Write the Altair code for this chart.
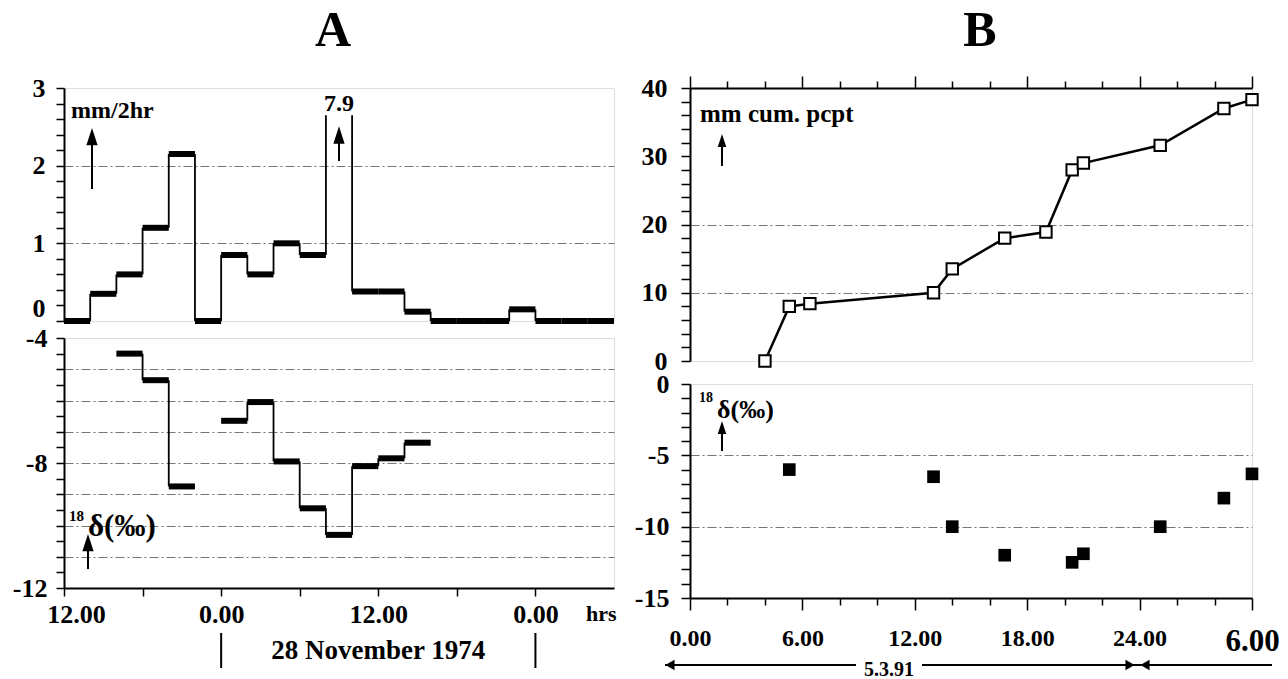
import altair as alt
import pandas as pd

SERIF = "Liberation Serif"

# ---------------- Panel A : 2-hour intervals (hours relative to 0.00, 28 Nov 1974)
a_start = [-12, -10, -8, -6, -4, -2, 0, 2, 4, 6, 8, 10, 12, 14, 16, 18, 20, 22, 24, 26, 28]
a_precip = [0, 0.35, 0.6, 1.2, 2.15, 0, 0.85, 0.6, 1.0, 0.85, 7.9, 0.38, 0.38, 0.12,
            0, 0, 0, 0.15, 0, 0, 0]
a_delta = [None, None, -4.5, -5.35, -8.75, None, -6.65, -6.05, -7.95, -9.45, -10.3,
           -8.1, -7.85, -7.35, None, None, None, None, None, None, None]
a_tick_hours = [-12, 0, 12, 24]
a_tick_labels = ["12.00", "0.00", "12.00", "0.00"]
a_peak_label = "7.9"

# ---------------- Panel B : hours from 0.00 on 5.3.91
b_cum_hours = [4.0, 5.3, 6.4, 13.0, 14.0, 16.8, 19.0, 20.4, 21.0, 25.1, 28.5, 30.0]
b_cum_mm = [0, 8.0, 8.4, 10.0, 13.5, 18.0, 18.9, 28.0, 29.0, 31.6, 37.0, 38.3]
b_delta_hours = [5.3, 13.0, 14.0, 16.8, 20.4, 21.0, 25.1, 28.5, 30.0]
b_delta = [-6.0, -6.5, -10.0, -12.0, -12.5, -11.9, -10.0, -8.0, -6.3]
b_tick_hours = [0, 6, 12, 18, 24, 30]
b_tick_labels = ["0.00", "6.00", "12.00", "18.00", "24.00", "6.00"]

INTERVAL = 2
CAP = 2.65  # display cap for the off-scale 7.9 bar

def steps(starts, vals, cap=None):
    horiz, vert = [], []
    prev = None
    for s, v in zip(starts, vals):
        if v is not None:
            horiz.append({"x": s, "x2": s + INTERVAL, "v": v})
        if prev is not None and v is not None:
            a, b = prev, v
            if cap is not None:
                a, b = min(a, cap), min(b, cap)
            vert.append({"x": s, "y": a, "y2": b})
        prev = v
    return pd.DataFrame(horiz), pd.DataFrame(vert)

def label_expr(hours, labels):
    expr = "''"
    for h, l in reversed(list(zip(hours, labels))):
        expr = f"datum.value == {h} ? '{l}' : ({expr})"
    return expr

GRID = dict(gridColor="#777777", gridDash=[9, 3, 2, 3], gridWidth=1)
LAB = dict(labelFont=SERIF, labelFontWeight="bold", labelColor="black", labelOverlap=False,
           domainColor="black", domainWidth=2, tickColor="black", tickWidth=1.5, title=None)

W_A, H_A1, H_A2 = 550, 233, 250
W_B, H_B1, H_B2 = 562, 273, 214
EXT_A, EXT_B = 56, 58

def txt(t, x, y, size, align="left", baseline="middle"):
    return alt.Chart(pd.DataFrame({"t": [t]})).mark_text(
        font=SERIF, fontWeight="bold", fontSize=size, align=align, baseline=baseline,
        color="black").encode(text="t:N", x=alt.value(x), y=alt.value(y))

def arrow(x, y_tip, y_tail, head=300):
    shaft = alt.Chart(pd.DataFrame({"a": [0]})).mark_rule(color="black", strokeWidth=2).encode(
        x=alt.value(x), y=alt.value(y_tip + 8), y2=alt.value(y_tail))
    tip = alt.Chart(pd.DataFrame({"a": [0]})).mark_point(
        shape="M0,-1L0.65,1L-0.65,1Z", filled=True, color="black", opacity=1, size=head).encode(
        x=alt.value(x), y=alt.value(y_tip + (head ** 0.5) / 2))
    return shaft + tip

xA = alt.Scale(domain=[-12, 30], nice=False, zero=False)

# ----- A top
hA1, vA1 = steps(a_start, a_precip, CAP)
yA1 = alt.Scale(domain=[0, 3], nice=False, zero=False)
yA1_axis = alt.Axis(values=[i / 5 for i in range(16)],
                    labelExpr="(abs(datum.value - round(datum.value)) < 0.001) ? toString(round(datum.value)) : ''",
                    grid=True,
                    gridOpacity={"condition": {"test": "abs(datum.value - 1) < 0.001 || abs(datum.value - 2) < 0.001", "value": 1}, "value": 0},
                    labelFontSize=26, tickSize=8, labelPadding=11, minExtent=EXT_A, maxExtent=EXT_A,
                    labelBaseline={"condition": {"test": "datum.value == 0", "value": "bottom"}, "value": "middle"},
                    **GRID, **LAB)
a1_h = alt.Chart(hA1).transform_filter("datum.v <= 3").mark_rule(
    strokeWidth=6, color="black", strokeCap="butt").encode(
    x=alt.X("x:Q", scale=xA, axis=None), x2="x2:Q",
    y=alt.Y("v:Q", scale=yA1, axis=yA1_axis))
a1_v = alt.Chart(vA1).mark_rule(strokeWidth=1.8, color="black").encode(
    x=alt.X("x:Q", scale=xA, axis=None), y=alt.Y("y:Q", scale=yA1, axis=yA1_axis), y2="y2:Q")
peak = pd.DataFrame({"h": [a_start[a_precip.index(max(a_precip))] + INTERVAL / 2], "t": [a_peak_label]})
a1_peak = alt.Chart(peak).mark_text(font=SERIF, fontWeight="bold", fontSize=24, color="black",
                                    baseline="middle").encode(
    x=alt.X("h:Q", scale=xA, axis=None), y=alt.value(16), text="t:N")
a1_arrow = alt.Chart(peak).mark_rule(color="black", strokeWidth=2).encode(
    x=alt.X("h:Q", scale=xA, axis=None), y=alt.value(45), y2=alt.value(73))
a1_tip = alt.Chart(peak).mark_point(shape="M0,-1L0.65,1L-0.65,1Z", filled=True, color="black",
                                    opacity=1, size=300).encode(
    x=alt.X("h:Q", scale=xA, axis=None), y=alt.value(47))
A_top = alt.layer(
    a1_h, a1_v, a1_peak, a1_arrow, a1_tip,
    txt("mm/2hr", 7, 23, 24),
    arrow(28, 40, 101),
    txt("A", 269, -57, 50, align="center"),
).properties(width=W_A, height=H_A1)

# ----- A bottom
hA2, vA2 = steps(a_start, a_delta)
yA2 = alt.Scale(domain=[-12, -4], nice=False, zero=False)
yA2_axis = alt.Axis(values=[-12 + 0.5 * i for i in range(17)],
                    labelExpr="datum.value % 4 == 0 ? toString(datum.value) : ''",
                    grid=True, gridOpacity={"condition": {"test": "datum.value % 1 == 0 && datum.value > -12 && datum.value < -4", "value": 1}, "value": 0},
                    labelFontSize=26, tickSize=8, labelPadding=9, minExtent=EXT_A, maxExtent=EXT_A,
                    **GRID, **LAB)
xA_axis = alt.Axis(values=[-12, -6, 0, 6, 12, 18, 24], labelExpr=label_expr(a_tick_hours, a_tick_labels),
                   labelFontSize=26, tickSize=8, labelPadding=5, labelFlush=False, grid=False,
                   labelOffset={"condition": {"test": "datum.value == -12", "value": 12}, "value": 0},
                   **LAB)
a2_h = alt.Chart(hA2).mark_rule(strokeWidth=6, color="black", strokeCap="butt").encode(
    x=alt.X("x:Q", scale=xA, axis=xA_axis), x2="x2:Q",
    y=alt.Y("v:Q", scale=yA2, axis=yA2_axis))
a2_v = alt.Chart(vA2).mark_rule(strokeWidth=1.8, color="black").encode(
    x=alt.X("x:Q", scale=xA, axis=xA_axis), y=alt.Y("y:Q", scale=yA2, axis=yA2_axis), y2="y2:Q")
date_bars = alt.Chart(pd.DataFrame({"h": [a_tick_hours[1], a_tick_hours[3]]})).mark_rule(
    color="black", strokeWidth=2).encode(x=alt.X("h:Q", scale=xA, axis=xA_axis),
                                         y=alt.value(H_A2 + 45), y2=alt.value(H_A2 + 80))
date_txt = alt.Chart(pd.DataFrame({"h": [(a_tick_hours[1] + a_tick_hours[3]) / 2], "t": ["28 November 1974"]})).mark_text(
    font=SERIF, fontWeight="bold", fontSize=27, color="black", baseline="middle").encode(
    x=alt.X("h:Q", scale=xA, axis=xA_axis), y=alt.value(H_A2 + 63), text="t:N")
A_bot = alt.layer(
    a2_h, a2_v, date_bars, date_txt,
    txt("hrs", 522, H_A2 + 26, 22),
    txt("18", 5, 178, 15),
    txt("δ(‰)", 24, 189, 31),
    arrow(24, 196, 231),
).properties(width=W_A, height=H_A2)

# ----- B top
xB = alt.Scale(domain=[0, 30], nice=False, zero=False)
yB1 = alt.Scale(domain=[0, 40], nice=False)
tick_cond = {"condition": {"test": "datum.value % 6 == 0", "value": 12}, "value": 7}
xB_top_axis = alt.Axis(orient="top", values=list(range(0, 31, 2)), labels=False, grid=False,
                       tickSize=tick_cond, **LAB)
yB1_axis = alt.Axis(values=list(range(0, 41, 2)),
                    labelExpr="datum.value % 10 == 0 ? toString(datum.value) : ''",
                    grid=True, gridOpacity={"condition": {"test": "datum.value == 10 || datum.value == 20", "value": 1}, "value": 0},
                    labelFontSize=26, tickSize=9, labelPadding=14, minExtent=EXT_B, maxExtent=EXT_B,
                    **GRID, **LAB)
cum = pd.DataFrame({"h": b_cum_hours, "mm": b_cum_mm})
b1_line = alt.Chart(cum).mark_line(color="black", strokeWidth=2.5).encode(
    x=alt.X("h:Q", scale=xB, axis=xB_top_axis), y=alt.Y("mm:Q", scale=yB1, axis=yB1_axis))
b1_pts = alt.Chart(cum).mark_point(shape="square", filled=True, fill="white", stroke="black",
                                   strokeWidth=2, size=130, opacity=1).encode(
    x=alt.X("h:Q", scale=xB, axis=xB_top_axis), y=alt.Y("mm:Q", scale=yB1, axis=yB1_axis))
B_top = alt.layer(
    b1_line, b1_pts,
    txt("mm cum. pcpt", 10, 26, 25),
    arrow(32, 46, 78, head=170),
    txt("B", 290, -57, 50, align="center"),
).properties(width=W_B, height=H_B1)

# ----- B bottom
yB2 = alt.Scale(domain=[-15, 0], nice=False)
yB2_axis = alt.Axis(values=list(range(-15, 1)),
                    labelExpr="datum.value % 5 == 0 ? toString(datum.value) : ''",
                    grid=True, gridOpacity={"condition": {"test": "datum.value == -5 || datum.value == -10", "value": 1}, "value": 0},
                    labelFontSize=26, tickSize=9, labelPadding=12, minExtent=EXT_B, maxExtent=EXT_B,
                    **GRID, **LAB)
xB_axis = alt.Axis(values=list(range(0, 31, 2)), labelExpr=label_expr(b_tick_hours, b_tick_labels),
                   labelFontSize={"condition": {"test": "datum.value == 30", "value": 31}, "value": 24},
                   tickSize=tick_cond, labelPadding=16, labelFlush=False, grid=False, **LAB)
dB = pd.DataFrame({"h": b_delta_hours, "d": b_delta})
b2_pts = alt.Chart(dB).mark_point(shape="square", filled=True, color="black", size=160, opacity=1).encode(
    x=alt.X("h:Q", scale=xB, axis=xB_axis), y=alt.Y("d:Q", scale=yB2, axis=yB2_axis))
ly = H_B2 + 67
segs = pd.DataFrame({"x": [-25, 232], "x2": [166, 582]})
line1 = alt.Chart(segs).mark_rule(color="black", strokeWidth=2).encode(
    x=alt.X("x:Q", scale=None, axis=None), x2="x2:Q", y=alt.value(ly))
heads = alt.Chart(pd.DataFrame({"x": [-20, 440, 455], "s": ["triangle-left", "triangle-right", "triangle-left"]})).mark_point(
    filled=True, color="black", opacity=1, size=110).encode(
    x=alt.X("x:Q", scale=None, axis=None), y=alt.value(ly),
    shape=alt.Shape("s:N", scale=None, legend=None))
B_bot = alt.layer(
    b2_pts, line1, heads,
    txt("5.3.91", 199, ly + 5, 20, align="center"),
    txt("18", 9, 14, 14),
    txt("δ(‰)", 27, 26, 26),
    arrow(32, 37, 67, head=170),
).properties(width=W_B, height=H_B2)

left = alt.vconcat(A_top, A_bot, spacing=17, bounds="flush")
right = alt.vconcat(B_top, B_bot, spacing=23, bounds="flush")
chart = alt.hconcat(left, right, spacing=13).properties(
    padding={"left": 7, "top": 5, "right": 0, "bottom": 0}
).configure_view(stroke="black", strokeWidth=2).configure(background="white")

chart.save("out.html", embed_options={"renderer": "svg", "actions": False})
